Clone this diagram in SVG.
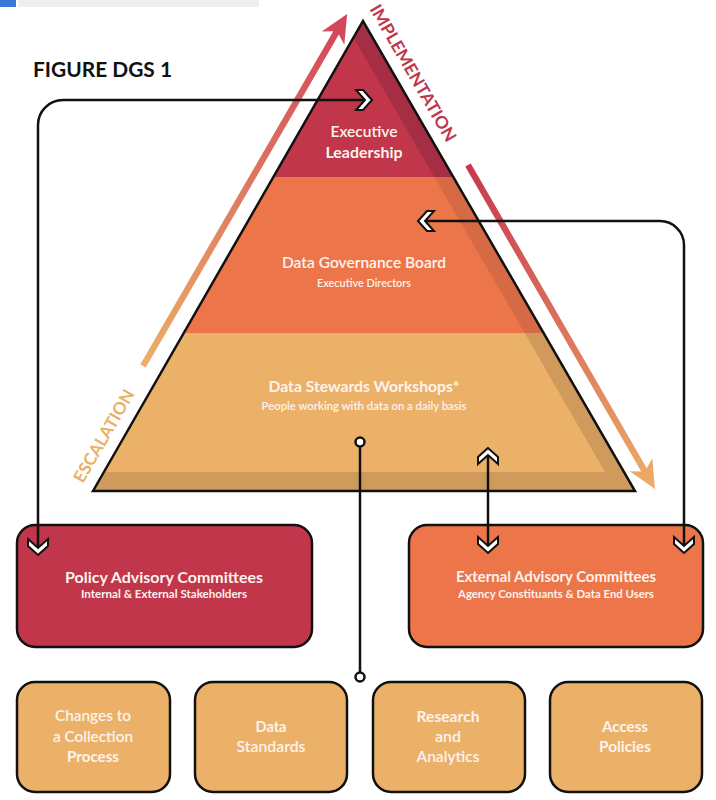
<svg xmlns="http://www.w3.org/2000/svg" width="716" height="800" viewBox="0 0 716 800">
<style>
text{font-family:Lato,"Open Sans","Liberation Sans",sans-serif;}
.w{fill:#FDF3EE;text-anchor:middle;}
.b{font-weight:700;}
.s{font-weight:600;}
.box{stroke:#111;stroke-width:2.5;}
.conn{fill:none;stroke:#111;stroke-width:2.5;}
.dot{fill:#fff;stroke:#111;stroke-width:2.5;}
</style>
<defs>
<marker id="chev" viewBox="-20 -14 24 28" refX="0" refY="0" markerWidth="24" markerHeight="28" markerUnits="userSpaceOnUse" orient="auto" overflow="visible">
<polygon points="0,0 -9,-10 -16,-10 -7,0 -16,10 -9,10" fill="#fff" stroke="#111" stroke-width="2" stroke-linejoin="miter"/>
</marker>
<marker id="chevS" viewBox="-20 -14 24 28" refX="0" refY="0" markerWidth="24" markerHeight="28" markerUnits="userSpaceOnUse" orient="auto-start-reverse" overflow="visible">
<polygon points="0,0 -9,-10 -16,-10 -7,0 -16,10 -9,10" fill="#fff" stroke="#111" stroke-width="2" stroke-linejoin="miter"/>
</marker>
<linearGradient id="gEsc" gradientUnits="userSpaceOnUse" x1="0" y1="0" x2="407" y2="0">
<stop offset="0" stop-color="#EBB068"/>
<stop offset="1" stop-color="#D2435A"/>
</linearGradient>
<linearGradient id="gImp" gradientUnits="userSpaceOnUse" x1="0" y1="0" x2="374" y2="0">
<stop offset="0" stop-color="#C8384E"/>
<stop offset="1" stop-color="#EDAE68"/>
</linearGradient>
</defs>
<rect x="0" y="0" width="16" height="7" fill="#3B78D8"/>
<rect x="18" y="0" width="241" height="7" fill="#EFEFEF"/>
<text x="33" y="77" font-size="20" class="b" fill="#111" textLength="139" lengthAdjust="spacingAndGlyphs">FIGURE DGS 1</text>
<g id="escalation-arrow">
<polygon transform="translate(143,366) rotate(-59.9)" fill="url(#gEsc)" points="0,-3.2 385,-3.2 379,-13 407,0 379,13 385,3.2 0,3.2"/>
<text transform="translate(109,439) rotate(-60)" font-size="17" class="b" fill="#EBB068" text-anchor="middle" textLength="104" lengthAdjust="spacingAndGlyphs">ESCALATION</text>
</g>
<g id="implementation-arrow">
<polygon transform="translate(468,165) rotate(60)" fill="url(#gImp)" points="0,-3.2 352,-3.2 346,-13 374,0 346,13 352,3.2 0,3.2"/>
<text transform="translate(408,76) rotate(60)" font-size="17" class="b" fill="#C0364A" text-anchor="middle" textLength="155" lengthAdjust="spacingAndGlyphs">IMPLEMENTATION</text>
</g>
<g id="pyramid">
<polygon points="363,21 273.4,177 453.3,177" fill="#A52D44"/>
<polygon points="273.4,177 183.8,333 543.6,333 453.3,177" fill="#D66A44"/>
<polygon points="183.8,333 93,491 635,491 543.6,333" fill="#CF9A5B"/>
<polygon points="353.5,37.6 273.4,177 434.3,177" fill="#C1364B"/>
<polygon points="273.4,177 183.8,333 524.6,333 434.3,177" fill="#EC764A"/>
<polygon points="183.8,333 103.9,472 605,472 524.6,333" fill="#EBB168"/>
<path d="M93,491 L363,21 L635,491 Z" fill="none" stroke="#111" stroke-width="2.5" stroke-linejoin="miter"/>
</g>
<g id="executive-leadership">
<text x="364" y="137" font-size="15" class="w s" textLength="67" lengthAdjust="spacingAndGlyphs">Executive</text>
<text x="364" y="158" font-size="15" class="w b" textLength="77" lengthAdjust="spacingAndGlyphs">Leadership</text>
</g>
<g id="data-governance-board">
<text x="364" y="268" font-size="14.5" class="w s" textLength="164" lengthAdjust="spacingAndGlyphs">Data Governance Board</text>
<text x="364" y="287" font-size="11" class="w s" textLength="94" lengthAdjust="spacingAndGlyphs">Executive Directors</text>
</g>
<g id="data-stewards-workshops">
<text x="364" y="392" font-size="14.5" class="w b" textLength="191" lengthAdjust="spacingAndGlyphs">Data Stewards Workshops*</text>
<text x="364" y="410" font-size="11" class="w s" textLength="205" lengthAdjust="spacingAndGlyphs">People working with data on a daily basis</text>
</g>
<g id="policy-advisory-committees">
<rect x="17" y="525" width="295" height="122" rx="18" fill="#C1364B" class="box"/>
<text x="164" y="583" font-size="15.5" class="w b" textLength="198" lengthAdjust="spacingAndGlyphs">Policy Advisory Committees</text>
<text x="164" y="598" font-size="11.5" class="w b" textLength="166" lengthAdjust="spacingAndGlyphs">Internal &amp; External Stakeholders</text>
</g>
<g id="external-advisory-committees">
<rect x="409" y="525" width="294" height="122" rx="18" fill="#EC764A" class="box"/>
<text x="556" y="582" font-size="15.5" class="w b" textLength="200" lengthAdjust="spacingAndGlyphs">External Advisory Committees</text>
<text x="556" y="598" font-size="11.5" class="w b" textLength="196" lengthAdjust="spacingAndGlyphs">Agency Constituants &amp; Data End Users</text>
</g>
<g id="changes-to-a-collection-process">
<rect x="17" y="682" width="153" height="110" rx="18" fill="#EBB168" class="box"/>
<text x="93" y="721" font-size="15" class="w s" textLength="76" lengthAdjust="spacingAndGlyphs">Changes to</text>
<text x="93" y="742" font-size="15" class="w s" textLength="80" lengthAdjust="spacingAndGlyphs">a Collection</text>
<text x="93" y="762" font-size="15" class="w b" textLength="52" lengthAdjust="spacingAndGlyphs">Process</text>
</g>
<g id="data-standards">
<rect x="195" y="682" width="152" height="110" rx="18" fill="#EBB168" class="box"/>
<text x="271" y="732" font-size="15" class="w b" textLength="31" lengthAdjust="spacingAndGlyphs">Data</text>
<text x="271" y="752" font-size="15" class="w s" textLength="69" lengthAdjust="spacingAndGlyphs">Standards</text>
</g>
<g id="research-and-analytics">
<rect x="373" y="682" width="152" height="110" rx="18" fill="#EBB168" class="box"/>
<text x="448" y="722" font-size="15" class="w b" textLength="63" lengthAdjust="spacingAndGlyphs">Research</text>
<text x="448" y="742" font-size="15" class="w s" textLength="26" lengthAdjust="spacingAndGlyphs">and</text>
<text x="448" y="762" font-size="15" class="w s" textLength="63" lengthAdjust="spacingAndGlyphs">Analytics</text>
</g>
<g id="access-policies">
<rect x="550" y="682" width="152" height="110" rx="18" fill="#EBB168" class="box"/>
<text x="625" y="732" font-size="15" class="w b" textLength="46" lengthAdjust="spacingAndGlyphs">Access</text>
<text x="625" y="752" font-size="15" class="w b" textLength="52" lengthAdjust="spacingAndGlyphs">Policies</text>
</g>
<g id="connectors">
<path class="conn" d="M38,555 V125 A25,25 0 0 1 63,100 H372" marker-start="url(#chevS)" marker-end="url(#chev)"/>
<path class="conn" d="M418,221 H660 A24,24 0 0 1 684,245 V553" marker-start="url(#chevS)" marker-end="url(#chev)"/>
<path class="conn" d="M488,448 V553" marker-start="url(#chevS)" marker-end="url(#chev)"/>
<path class="conn" d="M360,447 V672"/>
<circle class="dot" cx="360" cy="442" r="4.5"/>
<circle class="dot" cx="360" cy="677" r="4.5"/>
</g>
</svg>
